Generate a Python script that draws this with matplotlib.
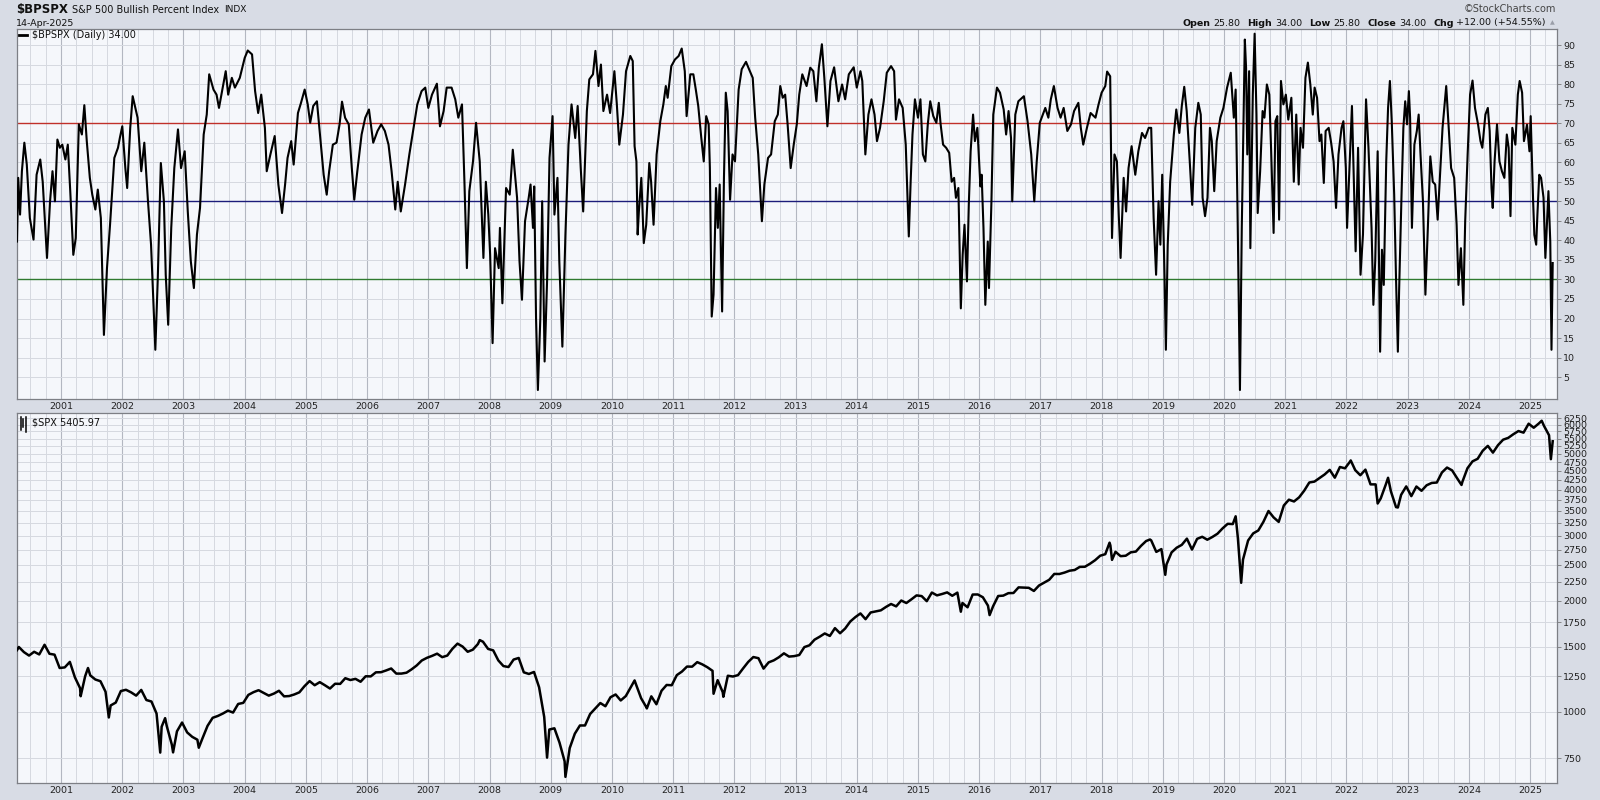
import matplotlib
matplotlib.use('Agg')
import matplotlib.pyplot as plt
from matplotlib.ticker import FixedLocator, FuncFormatter, NullLocator

# ---- $BPSPX readings (decimal year, value) ----
bp_dates = [
    2000.28, 2000.30, 2000.33, 2000.36, 2000.40, 2000.44, 2000.49, 2000.55, 2000.60, 2000.66,
    2000.70, 2000.77, 2000.82, 2000.86, 2000.90, 2000.94, 2000.98, 2001.02, 2001.07, 2001.11,
    2001.15, 2001.20, 2001.24, 2001.29, 2001.34, 2001.38, 2001.42, 2001.47, 2001.51, 2001.56,
    2001.60, 2001.65, 2001.70, 2001.75, 2001.80, 2001.87, 2001.93, 2001.96, 2002.00, 2002.05,
    2002.08, 2002.13, 2002.17, 2002.25, 2002.31, 2002.36, 2002.42, 2002.47, 2002.54, 2002.58,
    2002.63, 2002.68, 2002.71, 2002.75, 2002.80, 2002.85, 2002.91, 2002.96, 2003.02, 2003.07,
    2003.12, 2003.17, 2003.22, 2003.27, 2003.33, 2003.38, 2003.42, 2003.49, 2003.54, 2003.58,
    2003.64, 2003.69, 2003.73, 2003.79, 2003.84, 2003.92, 2004.00, 2004.05, 2004.12, 2004.17,
    2004.22, 2004.27, 2004.33, 2004.36, 2004.42, 2004.49, 2004.55, 2004.61, 2004.66, 2004.70,
    2004.76, 2004.80, 2004.87, 2004.92, 2004.98, 2005.03, 2005.07, 2005.12, 2005.18, 2005.23,
    2005.29, 2005.34, 2005.38, 2005.44, 2005.50, 2005.55, 2005.59, 2005.64, 2005.70, 2005.75,
    2005.79, 2005.84, 2005.91, 2005.97, 2006.03, 2006.10, 2006.17, 2006.23, 2006.29, 2006.35,
    2006.40, 2006.46, 2006.50, 2006.55, 2006.62, 2006.69, 2006.76, 2006.82, 2006.89, 2006.95,
    2007.00, 2007.06, 2007.14, 2007.19, 2007.25, 2007.30, 2007.38, 2007.44, 2007.49, 2007.55,
    2007.59, 2007.63, 2007.67, 2007.73, 2007.78, 2007.84, 2007.90, 2007.94, 2007.98, 2008.01,
    2008.05, 2008.09, 2008.15, 2008.17, 2008.21, 2008.27, 2008.33, 2008.38, 2008.45, 2008.49,
    2008.53, 2008.58, 2008.64, 2008.67, 2008.71, 2008.73, 2008.76, 2008.79, 2008.83, 2008.86,
    2008.90, 2008.94, 2008.98, 2009.03, 2009.06, 2009.11, 2009.14, 2009.19, 2009.24, 2009.29,
    2009.34, 2009.40, 2009.44, 2009.49, 2009.53, 2009.59, 2009.63, 2009.69, 2009.73, 2009.78,
    2009.82, 2009.86, 2009.92, 2009.97, 2010.04, 2010.08, 2010.12, 2010.18, 2010.23, 2010.30,
    2010.34, 2010.37, 2010.40, 2010.42, 2010.44, 2010.48, 2010.52, 2010.56, 2010.61, 2010.64,
    2010.68, 2010.73, 2010.79, 2010.84, 2010.88, 2010.91, 2010.97, 2011.03, 2011.09, 2011.14,
    2011.19, 2011.22, 2011.28, 2011.33, 2011.37, 2011.41, 2011.46, 2011.50, 2011.54, 2011.58,
    2011.60, 2011.63, 2011.66, 2011.70, 2011.73, 2011.76, 2011.80, 2011.83, 2011.86, 2011.89,
    2011.93, 2011.97, 2012.01, 2012.07, 2012.12, 2012.19, 2012.24, 2012.30, 2012.34, 2012.39,
    2012.45, 2012.49, 2012.55, 2012.60, 2012.66, 2012.71, 2012.75, 2012.79, 2012.83, 2012.87,
    2012.92, 2012.97, 2013.02, 2013.06, 2013.11, 2013.18, 2013.24, 2013.29, 2013.34, 2013.38,
    2013.43, 2013.47, 2013.52, 2013.57, 2013.63, 2013.70, 2013.76, 2013.81, 2013.87, 2013.95,
    2014.00, 2014.06, 2014.09, 2014.14, 2014.19, 2014.24, 2014.29, 2014.33, 2014.38, 2014.44,
    2014.49, 2014.56, 2014.61, 2014.64, 2014.69, 2014.75, 2014.80, 2014.85, 2014.88, 2014.91,
    2014.95, 2015.00, 2015.04, 2015.08, 2015.12, 2015.16, 2015.20, 2015.25, 2015.30, 2015.34,
    2015.37, 2015.41, 2015.46, 2015.51, 2015.55, 2015.59, 2015.62, 2015.66, 2015.70, 2015.73,
    2015.76, 2015.80, 2015.83, 2015.86, 2015.90, 2015.93, 2015.97, 2016.02, 2016.04, 2016.07,
    2016.10, 2016.14, 2016.16, 2016.20, 2016.23, 2016.29, 2016.34, 2016.40, 2016.44, 2016.48,
    2016.52, 2016.54, 2016.59, 2016.64, 2016.73, 2016.79, 2016.85, 2016.90, 2016.94, 2016.99,
    2017.08, 2017.13, 2017.17, 2017.22, 2017.28, 2017.33, 2017.38, 2017.44, 2017.50, 2017.55,
    2017.62, 2017.66, 2017.70, 2017.76, 2017.82, 2017.90, 2017.95, 2018.00, 2018.06, 2018.09,
    2018.14, 2018.17, 2018.21, 2018.25, 2018.28, 2018.31, 2018.36, 2018.40, 2018.44, 2018.49,
    2018.55, 2018.60, 2018.66, 2018.71, 2018.77, 2018.81, 2018.85, 2018.89, 2018.93, 2018.96,
    2018.99, 2019.03, 2019.05, 2019.08, 2019.12, 2019.18, 2019.22, 2019.27, 2019.31, 2019.35,
    2019.39, 2019.44, 2019.48, 2019.53, 2019.58, 2019.62, 2019.65, 2019.69, 2019.73, 2019.77,
    2019.80, 2019.84, 2019.88, 2019.94, 2019.99, 2020.05, 2020.11, 2020.16, 2020.19, 2020.22,
    2020.24, 2020.26, 2020.29, 2020.32, 2020.34, 2020.36, 2020.38, 2020.41, 2020.43, 2020.47,
    2020.50, 2020.53, 2020.55, 2020.59, 2020.63, 2020.66, 2020.70, 2020.74, 2020.77, 2020.81,
    2020.84, 2020.87, 2020.90, 2020.93, 2020.97, 2021.01, 2021.05, 2021.10, 2021.14, 2021.18,
    2021.22, 2021.25, 2021.29, 2021.33, 2021.37, 2021.41, 2021.45, 2021.48, 2021.52, 2021.56,
    2021.59, 2021.63, 2021.66, 2021.71, 2021.75, 2021.79, 2021.83, 2021.87, 2021.92, 2021.95,
    2021.99, 2022.01, 2022.05, 2022.09, 2022.12, 2022.15, 2022.19, 2022.23, 2022.27, 2022.32,
    2022.36, 2022.41, 2022.44, 2022.47, 2022.51, 2022.55, 2022.58, 2022.61, 2022.65, 2022.68,
    2022.71, 2022.74, 2022.78, 2022.81, 2022.84, 2022.86, 2022.90, 2022.93, 2022.96, 2022.99,
    2023.02, 2023.04, 2023.07, 2023.11, 2023.15, 2023.18, 2023.21, 2023.25, 2023.29, 2023.33,
    2023.37, 2023.41, 2023.45, 2023.49, 2023.53, 2023.57, 2023.63, 2023.67, 2023.71, 2023.76,
    2023.80, 2023.83, 2023.87, 2023.91, 2023.94, 2023.98, 2024.02, 2024.06, 2024.10, 2024.15,
    2024.19, 2024.22, 2024.27, 2024.31, 2024.34, 2024.37, 2024.39, 2024.42, 2024.46, 2024.50,
    2024.54, 2024.58, 2024.62, 2024.65, 2024.68, 2024.71, 2024.76, 2024.80, 2024.83, 2024.87,
    2024.90, 2024.95, 2024.99, 2025.01, 2025.05, 2025.07, 2025.10, 2025.12, 2025.15, 2025.18,
    2025.22, 2025.25, 2025.28, 2025.30, 2025.33, 2025.35, 2025.37,
]
bp_vals = [
    39.7, 56.0, 46.6, 57.7, 65.0, 59.4, 45.7, 40.2, 56.8, 60.7,
    55.0, 35.5, 50.0, 57.7, 50.0, 65.8, 63.7, 64.5, 60.7, 64.5,
    52.6, 36.3, 40.6, 69.7, 67.1, 74.6, 65.4, 56.0, 51.7, 47.9,
    53.0, 45.7, 15.8, 32.9, 44.0, 61.1, 63.7, 66.2, 69.2, 58.5,
    53.4, 68.8, 76.9, 71.4, 57.7, 65.0, 50.0, 38.9, 12.0, 30.3,
    59.8, 50.0, 31.2, 18.4, 43.2, 58.5, 68.4, 58.5, 62.8, 47.4,
    34.6, 27.8, 41.5, 48.3, 67.1, 72.2, 82.5, 78.6, 77.3, 73.9,
    79.1, 83.3, 77.3, 81.6, 79.1, 81.6, 86.7, 88.6, 87.6, 78.2,
    72.6, 77.3, 68.8, 57.7, 62.0, 66.7, 54.3, 47.0, 54.3, 61.1,
    65.4, 59.4, 72.6, 75.2, 78.6, 74.8, 70.1, 74.4, 75.6, 67.1,
    56.8, 51.7, 57.7, 64.5, 65.0, 69.7, 75.5, 71.4, 69.7, 58.5,
    50.4, 57.7, 67.1, 71.4, 73.5, 65.0, 68.0, 69.7, 68.0, 64.5,
    57.7, 47.9, 55.0, 47.4, 54.3, 62.0, 68.8, 74.8, 78.2, 79.1,
    73.9, 77.3, 80.1, 69.2, 73.1, 79.1, 79.1, 76.1, 71.4, 74.8,
    55.0, 32.9, 52.6, 60.2, 70.1, 60.2, 35.5, 55.0, 46.6, 36.3,
    13.7, 38.0, 32.9, 43.2, 23.9, 53.4, 51.7, 63.2, 50.9, 34.6,
    24.8, 44.9, 50.9, 54.3, 43.2, 53.8, 20.1, 1.7, 20.1, 50.0,
    9.0, 29.5, 61.1, 71.8, 46.6, 56.0, 34.6, 12.8, 41.5, 64.5,
    74.8, 66.2, 74.4, 58.5, 47.4, 73.1, 81.2, 82.5, 88.5, 79.5,
    85.0, 73.1, 77.3, 72.6, 83.3, 74.8, 64.5, 72.2, 83.3, 87.2,
    85.9, 64.1, 60.2, 41.5, 47.4, 56.0, 39.3, 44.0, 59.8, 55.0,
    44.0, 62.0, 70.5, 74.8, 79.5, 76.5, 84.6, 86.3, 87.2, 89.1,
    83.3, 71.8, 82.5, 82.5, 78.6, 74.4, 66.2, 60.2, 71.8, 69.7,
    58.5, 20.5, 26.1, 53.4, 43.2, 54.3, 21.8, 56.0, 77.8, 73.1,
    50.4, 62.0, 60.2, 78.6, 83.8, 85.7, 83.8, 81.6, 71.4, 62.0,
    44.9, 54.3, 61.1, 62.0, 70.5, 72.2, 79.5, 76.5, 77.3, 69.7,
    58.5, 64.5, 69.7, 77.3, 82.5, 79.5, 84.2, 83.3, 75.6, 84.2,
    90.2, 81.6, 69.2, 80.8, 84.3, 75.6, 79.9, 76.1, 82.5, 84.3,
    79.1, 83.3, 80.8, 62.0, 72.2, 76.1, 72.2, 65.4, 68.8, 75.6,
    82.9, 84.6, 83.3, 70.9, 76.1, 73.9, 64.5, 41.0, 55.0, 67.1,
    76.1, 71.4, 76.1, 62.0, 60.2, 69.7, 75.6, 71.8, 70.1, 75.2,
    69.7, 64.5, 63.7, 62.4, 55.0, 56.0, 50.9, 53.4, 22.6, 36.3,
    44.0, 29.5, 49.1, 62.8, 72.2, 65.4, 68.8, 53.8, 56.8, 43.2,
    23.5, 39.7, 27.8, 50.0, 72.2, 79.1, 77.8, 73.5, 67.1, 73.1,
    66.2, 50.0, 72.2, 75.6, 76.9, 70.5, 62.0, 50.0, 60.2, 70.1,
    73.9, 71.4, 76.1, 79.5, 73.9, 71.4, 73.9, 68.0, 69.7, 73.1,
    75.2, 68.8, 64.5, 68.8, 72.6, 71.4, 74.8, 77.8, 79.5, 83.2,
    82.0, 40.6, 62.0, 60.2, 46.6, 35.5, 56.0, 47.4, 58.5, 64.1,
    56.8, 62.8, 67.5, 66.2, 68.8, 68.8, 45.7, 31.2, 50.0, 38.9,
    56.8, 29.5, 12.0, 38.9, 55.0, 67.1, 73.5, 67.5, 74.4, 79.3,
    73.1, 60.2, 49.1, 68.8, 75.2, 72.2, 50.9, 46.2, 50.9, 68.8,
    65.4, 52.6, 65.4, 71.4, 73.9, 79.1, 82.9, 71.4, 78.6, 48.3,
    24.4, 1.7, 43.2, 73.1, 91.4, 84.2, 62.0, 83.3, 38.0, 77.3,
    92.9, 72.2, 47.0, 57.7, 73.1, 71.4, 79.9, 77.3, 62.8, 41.9,
    70.5, 71.8, 45.3, 80.8, 74.8, 77.3, 70.9, 76.5, 55.0, 72.2,
    54.3, 68.8, 63.7, 81.6, 85.5, 79.9, 72.2, 79.1, 76.5, 65.4,
    67.1, 54.7, 68.0, 68.8, 65.0, 60.2, 48.3, 62.0, 68.8, 70.5,
    58.5, 43.2, 58.5, 74.4, 56.0, 37.2, 63.7, 31.2, 41.5, 76.1,
    63.7, 43.2, 23.5, 34.6, 62.8, 11.5, 37.6, 28.6, 60.2, 73.9,
    80.8, 70.5, 51.7, 30.3, 11.5, 26.9, 51.7, 68.8, 75.6, 69.7,
    78.2, 71.4, 43.2, 64.5, 68.0, 72.2, 62.0, 50.0, 26.1, 43.2,
    61.5, 55.0, 54.3, 45.3, 56.8, 68.8, 79.5, 68.8, 58.5, 56.0,
    44.0, 28.6, 38.0, 23.5, 44.9, 62.0, 77.3, 80.9, 73.9, 69.7,
    65.4, 63.7, 72.2, 73.9, 68.0, 53.4, 48.3, 60.2, 69.7, 60.2,
    57.7, 56.0, 67.1, 63.7, 46.2, 68.8, 64.5, 77.3, 80.8, 77.8,
    65.4, 69.6, 62.8, 71.8, 50.0, 41.4, 38.9, 46.6, 56.8, 56.0,
    50.9, 35.5, 45.7, 52.6, 39.7, 12.0, 34.2,
]

# ---- $SPX: month-end closes from Mar 2000 to Mar 2025 ----
spx_first_month = 2000.31
spx_monthly = [
    1499, 1452, 1421, 1455, 1431, 1518, 1437, 1429, 1315, 1320,
    1366, 1240, 1160, 1249, 1256, 1224, 1211, 1134, 1041, 1060, 1139, 1148,
    1130, 1107, 1147, 1077, 1067, 990, 912, 916, 815, 886, 936, 880,
    856, 841, 848, 917, 964, 975, 990, 1008, 996, 1051, 1058, 1112,
    1131, 1145, 1126, 1107, 1121, 1141, 1102, 1104, 1115, 1130, 1174, 1212,
    1181, 1204, 1181, 1157, 1192, 1191, 1234, 1220, 1229, 1207, 1249, 1248,
    1280, 1281, 1295, 1311, 1270, 1270, 1277, 1304, 1336, 1378, 1401, 1418,
    1438, 1407, 1421, 1482, 1531, 1503, 1455, 1474, 1527, 1549, 1481, 1468,
    1379, 1331, 1323, 1386, 1400, 1280, 1267, 1283, 1166, 969, 896, 903,
    826, 735, 798, 873, 919, 919, 987, 1021, 1057, 1036, 1096, 1115,
    1074, 1104, 1169, 1187, 1089, 1031, 1102, 1049, 1141, 1183, 1181, 1258,
    1286, 1327, 1326, 1364, 1345, 1321, 1292, 1219, 1131, 1253, 1247, 1258,
    1312, 1366, 1408, 1398, 1310, 1362, 1379, 1406, 1441, 1412, 1416, 1426,
    1498, 1515, 1569, 1598, 1631, 1606, 1686, 1633, 1682, 1757, 1806, 1848,
    1783, 1859, 1872, 1884, 1924, 1960, 1931, 2003, 1972, 2018, 2068, 2059,
    1995, 2105, 2068, 2086, 2107, 2063, 2104, 1972, 1920, 2079, 2080, 2044,
    1940, 1932, 2060, 2065, 2097, 2099, 2174, 2171, 2168, 2126, 2199, 2239,
    2279, 2364, 2363, 2384, 2412, 2423, 2470, 2472, 2519, 2575, 2648, 2674,
    2824, 2714, 2641, 2648, 2705, 2718, 2816, 2902, 2914, 2712, 2760, 2507,
    2704, 2784, 2834, 2946, 2752, 2942, 2980, 2926, 2977, 3038, 3141, 3231,
    3226, 2954, 2585, 2912, 3044, 3100, 3271, 3500, 3363, 3270, 3622, 3756,
    3714, 3811, 3973, 4181, 4204, 4298, 4395, 4523, 4308, 4605, 4567, 4766,
    4516, 4374, 4530, 4132, 4132, 3785, 4130, 3955, 3586, 3872, 4080, 3840,
    4077, 3970, 4109, 4169, 4180, 4450, 4589, 4508, 4288, 4194, 4568, 4770,
    4846, 5096, 5254, 5036, 5278, 5460, 5522, 5648, 5762, 5705, 6032, 5882,
    6041, 5955, 5612,
]
# intra-month highs / lows that show on the chart
spx_extra_dates = [2000.28, 2000.73, 2001.32, 2001.44, 2001.78, 2002.62, 2002.70, 2002.83,
                   2003.25, 2007.84, 2008.94, 2009.24, 2010.37, 2010.57, 2011.66, 2011.82,
                   2015.70, 2016.17, 2018.13, 2018.17, 2018.79, 2019.04, 2020.19, 2020.28,
                   2022.07, 2022.51, 2022.68, 2022.84, 2023.88, 2025.19, 2025.34, 2025.37]
spx_extra_vals = [1470, 1520, 1103, 1315, 966, 776, 962, 777,
                  800, 1565, 752, 667, 1217, 1022, 1120, 1099,
                  1868, 1829, 2873, 2581, 2930, 2351, 3386, 2237,
                  4797, 3667, 4305, 3577, 4117, 6144, 4835, 5406]

years = list(range(2001, 2026))
bp_ticks = list(range(5, 95, 5))
spx_ticks = [750] + list(range(1000, 6500, 250))

BG = '#d8dce5'
PANEL = '#f5f7fb'
GRID_MAJ = '#b3b7c1'
GRID_MIN = '#d6d9e0'

fig = plt.figure(figsize=(16, 8), dpi=100, facecolor=BG)


def px_axes(x0, y0, x1, y1):
    return fig.add_axes([x0 / 1600, 1 - y1 / 800, (x1 - x0) / 1600, (y1 - y0) / 800])


ax1 = px_axes(17, 29, 1557, 399)
ax2 = px_axes(17, 413, 1557, 783)

quarters = [y + q / 4 for y in range(2000, 2026) for q in range(4)]
for ax in (ax1, ax2):
    ax.set_facecolor(PANEL)
    ax.set_xlim(2000.28, 2025.44)
    ax.xaxis.set_major_locator(FixedLocator(years))
    ax.xaxis.set_minor_locator(FixedLocator(quarters))
    ax.set_xticklabels([str(y) for y in years])
    ax.grid(which='major', axis='x', color=GRID_MAJ, lw=0.8)
    ax.grid(which='minor', axis='x', color=GRID_MIN, lw=0.7)
    ax.grid(which='major', axis='y', color=GRID_MIN, lw=0.7)
    ax.set_axisbelow(True)
    ax.yaxis.tick_right()
    ax.tick_params(axis='x', which='both', length=0, labelsize=6.8, pad=2, labelcolor='#222222')
    ax.tick_params(axis='y', which='major', length=3, width=0.6, color='#777777',
                   labelsize=6.8, pad=1.5, labelcolor='#222222')
    for s in ax.spines.values():
        s.set_color('#7d7f85')
        s.set_linewidth(0.9)

# top panel: bullish percent index
ax1.set_ylim(-0.6, 94.1)
ax1.yaxis.set_major_locator(FixedLocator(bp_ticks))
ax1.axhline(70, color='#c0302a', lw=1.0, zorder=2)
ax1.axhline(50, color='#1c1c7a', lw=1.0, zorder=2)
ax1.axhline(30, color='#2f7a2f', lw=1.0, zorder=2)
ax1.plot(bp_dates, bp_vals, color='black', lw=1.5, zorder=3)

# bottom panel: S&P 500, log scale
spx_dates = [spx_first_month + i / 12 for i in range(len(spx_monthly))]
pts = sorted(zip(spx_dates + spx_extra_dates, spx_monthly + spx_extra_vals))
ax2.set_yscale('log')
ax2.set_ylim(642, 6448)
ax2.yaxis.set_major_locator(FixedLocator(spx_ticks))
ax2.yaxis.set_major_formatter(FuncFormatter(lambda v, p: f'{v:.0f}'))
ax2.yaxis.set_minor_locator(NullLocator())
ax2.plot([p[0] for p in pts], [p[1] for p in pts], color='black', lw=1.8, zorder=3)

# legends inside panels
ax1.plot([0.0015, 0.0068], [0.984, 0.984], transform=ax1.transAxes, color='black', lw=2,
         clip_on=False, zorder=5)
ax1.text(0.0095, 0.984, '$BPSPX (Daily) 34.00', transform=ax1.transAxes, fontsize=7,
         va='center', ha='left', color='#111111')
for i, (lo, hi) in enumerate([(0.955, 0.99), (0.962, 0.985), (0.95, 0.988)]):
    xx = 0.0025 + i * 0.0016
    ax2.plot([xx, xx], [lo, hi], transform=ax2.transAxes, color='black', lw=1.1, clip_on=False)
ax2.text(0.0095, 0.973, '$SPX 5405.97', transform=ax2.transAxes, fontsize=7,
         va='center', ha='left', color='#111111')

fig.canvas.draw()
renderer = fig.canvas.get_renderer()


def run_text(x_px, y_px, parts, right=False):
    # lay out text pieces in a row; gap = pixels after each piece
    x = x_px / 1600
    if right:
        for s, size, weight, gap in reversed(parts):
            x -= gap / 1600
            t = fig.text(x, 1 - y_px / 800, s, fontsize=size, fontweight=weight, va='center',
                         ha='right', color='#111111')
            x -= t.get_window_extent(renderer).width / fig.bbox.width
    else:
        for s, size, weight, gap in parts:
            t = fig.text(x, 1 - y_px / 800, s, fontsize=size, fontweight=weight, va='center',
                         ha='left', color='#111111')
            x += t.get_window_extent(renderer).width / fig.bbox.width + gap / 1600


# header
run_text(16, 10, [('$BPSPX', 8.5, 'bold', 4), ('S&P 500 Bullish Percent Index', 7, 'normal', 5),
                  ('INDX', 6.5, 'normal', 0)])
fig.text(16 / 1600, 1 - 23 / 800, '14-Apr-2025', fontsize=6.8, va='center', color='#111111')
fig.text(1556 / 1600, 1 - 9 / 800, '\u00a9StockCharts.com', fontsize=7, va='center', ha='right',
         color='#444444')
run_text(1546, 23, [('Open', 6.8, 'bold', 3), ('25.80', 6.8, 'normal', 7),
                    ('High', 6.8, 'bold', 3), ('34.00', 6.8, 'normal', 7),
                    ('Low', 6.8, 'bold', 3), ('25.80', 6.8, 'normal', 7),
                    ('Close', 6.8, 'bold', 3), ('34.00', 6.8, 'normal', 7),
                    ('Chg', 6.8, 'bold', 3), ('+12.00 (+54.55%)', 6.8, 'normal', 0)], right=True)
fig.text(1552 / 1600, 1 - 23 / 800, '\u25b2', fontsize=4.5, va='center', ha='center',
         color='#9a9ea8')

fig.savefig('out.png', dpi=100, facecolor=BG)
